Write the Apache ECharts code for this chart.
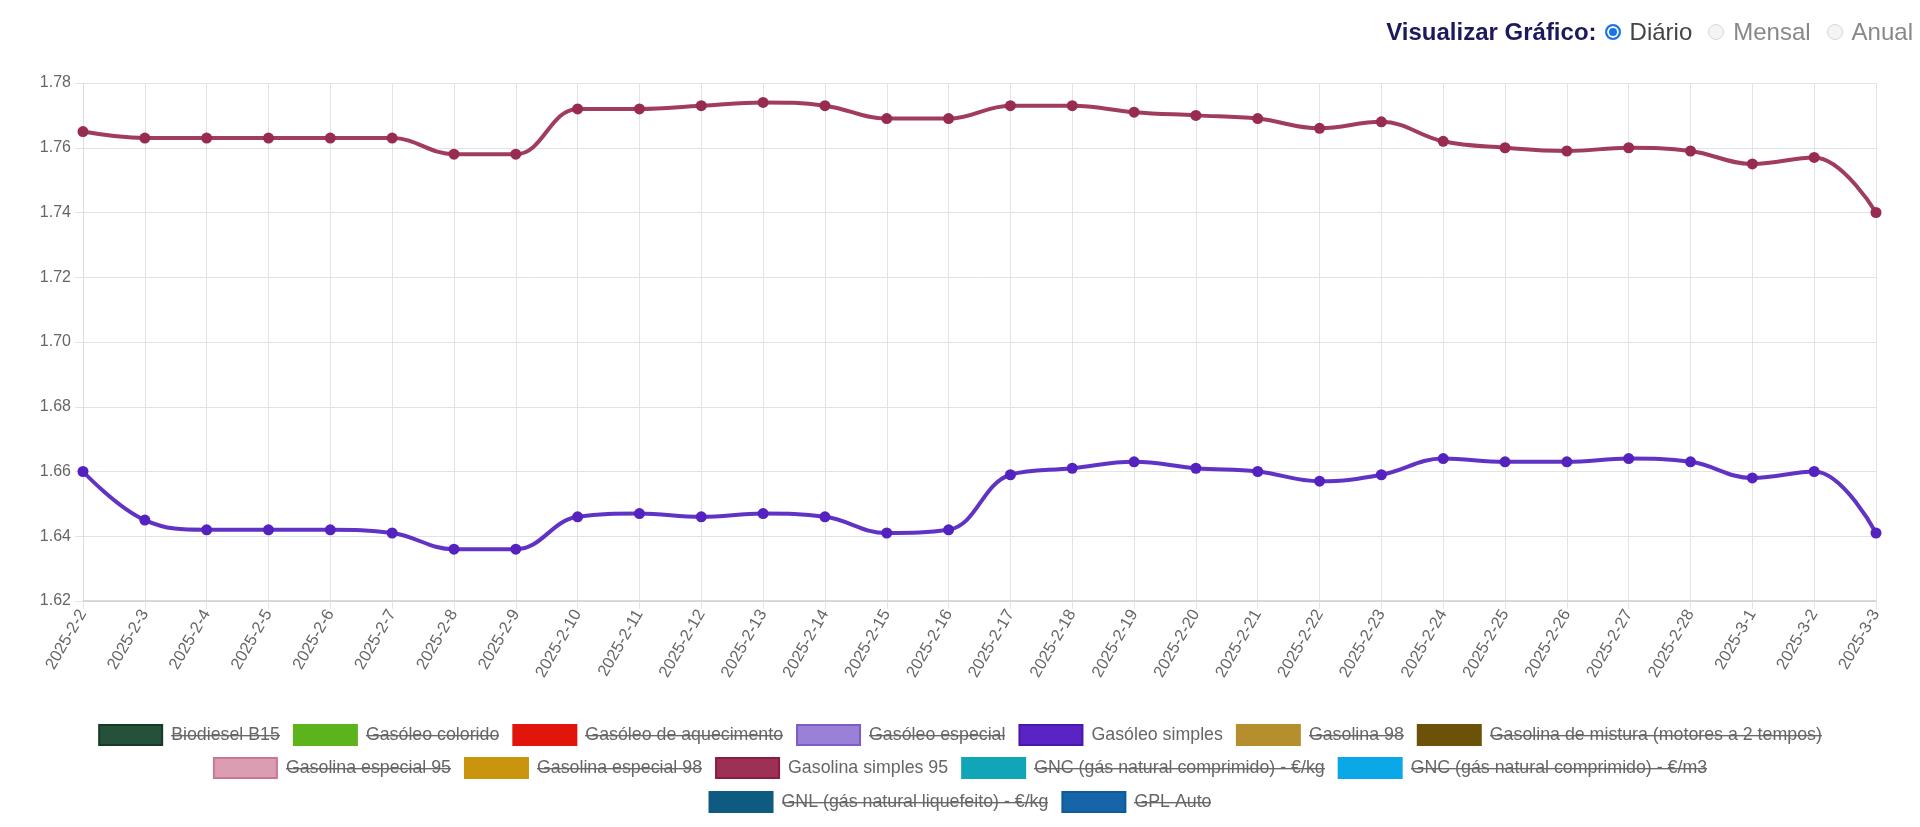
<!DOCTYPE html>
<html><head><meta charset="utf-8">
<script src="https://cdn.jsdelivr.net/npm/echarts@6/dist/echarts.min.js"></script>
<style>
html,body{margin:0;padding:0;background:#fff;overflow:hidden;}
#main{position:absolute;left:0;top:0;width:1920px;height:827px;}
.top{position:absolute;right:7px;top:17px;height:30px;font-family:Arial,"Liberation Sans",sans-serif;font-size:24px;display:flex;align-items:center;z-index:2;}
.top .ttl{font-weight:bold;color:#1c1a5c;margin-right:8px;}
.top input{appearance:none;-webkit-appearance:none;width:16px;height:16px;border-radius:50%;margin:0;box-sizing:border-box;border:1px solid #d6d6d6;background:#f4f4f4;}
.top input:checked{border:2px solid #1a73e8;background:#1a73e8;box-shadow:inset 0 0 0 2px #fff;}
.top label{display:flex;align-items:center;}
.top label span{margin-left:9px;color:#888;}
.top label.on span{color:#444;}
.top label + label{margin-left:16px;}
</style>
</head><body>
<div class="top"><span class="ttl">Visualizar Gráfico:</span>
<label class="on"><input type="radio" name="v" checked><span>Diário</span></label>
<label><input type="radio" name="v"><span>Mensal</span></label>
<label><input type="radio" name="v"><span>Anual</span></label>
</div>
<div id="main"></div>
<script>
const categories = ['2025-2-2','2025-2-3','2025-2-4','2025-2-5','2025-2-6','2025-2-7','2025-2-8','2025-2-9','2025-2-10','2025-2-11','2025-2-12','2025-2-13','2025-2-14','2025-2-15','2025-2-16','2025-2-17','2025-2-18','2025-2-19','2025-2-20','2025-2-21','2025-2-22','2025-2-23','2025-2-24','2025-2-25','2025-2-26','2025-2-27','2025-2-28','2025-3-1','2025-3-2','2025-3-3'];
const gasolinaSimples95 = [1.765,1.763,1.763,1.763,1.763,1.763,1.758,1.758,1.772,1.772,1.773,1.774,1.773,1.769,1.769,1.773,1.773,1.771,1.770,1.769,1.766,1.768,1.762,1.760,1.759,1.760,1.759,1.755,1.757,1.740];
const gasoleoSimples = [1.660,1.645,1.642,1.642,1.642,1.641,1.636,1.636,1.646,1.647,1.646,1.647,1.646,1.641,1.642,1.659,1.661,1.663,1.661,1.660,1.657,1.659,1.664,1.663,1.663,1.664,1.663,1.658,1.660,1.641];
const yMin = 1.62, yMax = 1.78, yStep = 0.02;
const legendRow1 = ['Biodiesel B15','Gasóleo colorido','Gasóleo de aquecimento','Gasóleo especial','Gasóleo simples','Gasolina 98','Gasolina de mistura (motores a 2 tempos)'];
const legendRow2 = ['Gasolina especial 95','Gasolina especial 98','Gasolina simples 95','GNC (gás natural comprimido) - €/kg','GNC (gás natural comprimido) - €/m3'];
const legendRow3 = ['GNL (gás natural liquefeito) - €/kg','GPL Auto'];
const seriesValues = {'Gasóleo simples': gasoleoSimples, 'Gasolina simples 95': gasolinaSimples95};
const palette = {
  'Biodiesel B15': ['#25503a', '#173a26'],
  'Gasóleo colorido': ['#5db31b', '#5db31b'],
  'Gasóleo de aquecimento': ['#e0150c', '#e0150c'],
  'Gasóleo especial': ['#9b80d8', '#7b5dc6'],
  'Gasóleo simples': ['#5a23c4', '#4a18a8'],
  'Gasolina 98': ['#b58f2e', '#b58f2e'],
  'Gasolina de mistura (motores a 2 tempos)': ['#6b5208', '#6b5208'],
  'Gasolina especial 95': ['#dc9cb2', '#c9768f'],
  'Gasolina especial 98': ['#c9950c', '#c9950c'],
  'Gasolina simples 95': ['#9c3055', '#8a1c42'],
  'GNC (gás natural comprimido) - €/kg': ['#12a5b8', '#12a5b8'],
  'GNC (gás natural comprimido) - €/m3': ['#0ba8e8', '#0ba8e8'],
  'GNL (gás natural liquefeito) - €/kg': ['#0f5a80', '#0f5a80'],
  'GPL Auto': ['#1565a8', '#0f5a98']
};
const lineColors = {'Gasóleo simples': '#5322bf', 'Gasolina simples 95': '#982b51'};

const strike = document.createElement('canvas');
strike.width = 4; strike.height = 20;
const sc = strike.getContext('2d');
sc.fillStyle = '#6a6a6a';
sc.fillRect(0, 10, 4, 1.4);

const FONT = 'Arial, "Liberation Sans", sans-serif';
const LFS = 17.8;
function makeLegend(names, top) {
  return {
    top: top, left: 'center', padding: 0,
    itemWidth: 63, itemHeight: 20, itemGap: 13, icon: 'rect',
    data: names.map(n => ({name: n, icon: 'rect', itemStyle: {color: palette[n][0], borderColor: palette[n][1], borderWidth: 2}})),
    formatter: n => seriesValues[n] ? '{v|' + n + '}' : '{s|' + n + '}',
    textStyle: {
      color: '#666', fontFamily: FONT, fontSize: LFS, padding: [0, 0, 0, 4],
      rich: {
        v: {color: '#666', fontFamily: FONT, fontSize: LFS, lineHeight: 20},
        s: {color: '#666', fontFamily: FONT, fontSize: LFS, lineHeight: 20, backgroundColor: {image: strike}}
      }
    }
  };
}

const allNames = legendRow1.concat(legendRow2, legendRow3);
const series = allNames.map(n => {
  const vals = seriesValues[n] || [];
  const c = lineColors[n] || palette[n][1];
  return {
    name: n, type: 'line', data: vals, smooth: 0.4,
    symbol: 'circle', symbolSize: 11,
    lineStyle: {width: 4, color: c, opacity: 0.92},
    itemStyle: {color: c},
    emphasis: {disabled: true}
  };
});

const chart = echarts.init(document.getElementById('main'), null, {renderer: 'canvas'});
chart.setOption({
  animation: false,
  backgroundColor: '#fff',
  legend: [makeLegend(legendRow1, 724), makeLegend(legendRow2, 757), makeLegend(legendRow3, 791)],
  grid: {left: 83, right: 44, top: 83, bottom: 226, containLabel: false},
  xAxis: {
    type: 'category', data: categories, boundaryGap: false,
    axisLine: {show: true, lineStyle: {color: '#cfcfcf', width: 1.5}},
    axisTick: {show: true, length: 8, alignWithLabel: true, lineStyle: {color: '#e3e3e3'}},
    splitLine: {show: true, lineStyle: {color: '#e3e3e3', width: 1}},
    axisLabel: {rotate: 60, interval: 0, margin: 10, color: '#666', fontFamily: FONT, fontSize: 16.5}
  },
  yAxis: {
    type: 'value', min: yMin, max: yMax, interval: yStep,
    axisLine: {show: true, lineStyle: {color: '#dcdcdc'}},
    axisTick: {show: true, length: 8, lineStyle: {color: '#e3e3e3'}},
    splitLine: {show: true, lineStyle: {color: '#e3e3e3', width: 1}},
    axisLabel: {margin: 12, color: '#666', fontFamily: FONT, fontSize: 16, formatter: v => v.toFixed(2)}
  },
  series: series
});
</script>
</body></html>
